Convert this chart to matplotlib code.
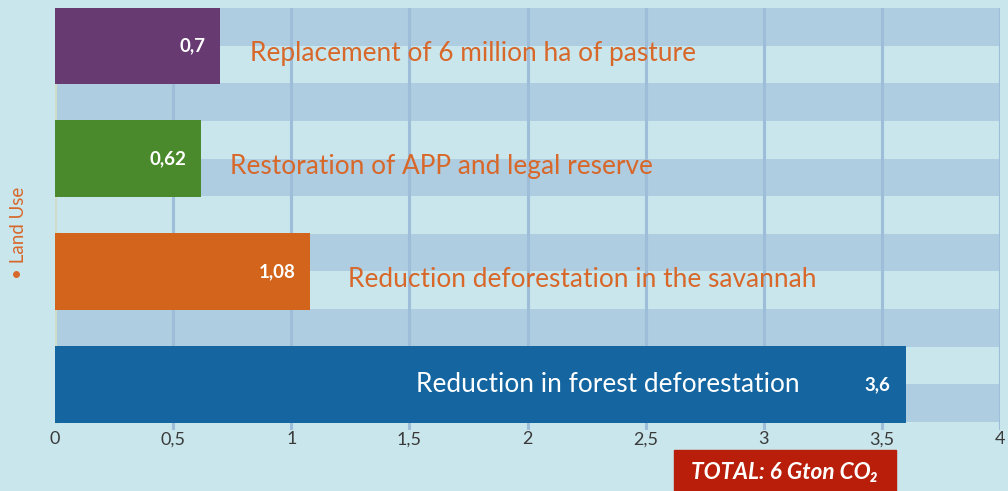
import matplotlib
matplotlib.use("Agg")
import matplotlib.pyplot as plt
from matplotlib.patches import Rectangle

# Datos (Gton CO2)
categorias = ["Replacement of 6 million ha of pasture",
              "Restoration of APP and legal reserve",
              "Reduction deforestation in the savannah",
              "Reduction in forest deforestation"]
valores = [0.7, 0.62, 1.08, 3.6]
etiquetas_valor = ["0,7", "0,62", "1,08", "3,6"]
ticks_x = [0, 0.5, 1, 1.5, 2, 2.5, 3, 3.5, 4]
ticks_txt = ["0", "0,5", "1", "1,5", "2", "2,5", "3", "3,5", "4"]

colores = ["#673a72", "#4b8a2c", "#d2651b", "#1465a0"]
color_txt = ["#d8672a", "#d8672a", "#d8672a", "white"]
# posicion x de inicio del texto de cada categoria
x_txt = [0.825, 0.74, 1.24, 1.53]

fondo = "#c8e6ec"
banda = "#aecde0"
fuente = ["Lato", "DejaVu Sans"]
plt.rcParams["font.family"] = fuente

fig = plt.figure(figsize=(10.08, 4.91), dpi=100, facecolor=fondo)
ax = fig.add_axes([55 / 1008, (491 - 430) / 491, 945 / 1008, 422 / 491])
ax.set_facecolor(fondo)

n_bandas = 11
ax.set_xlim(0, 4)
ax.set_ylim(n_bandas + 8 / 37.64, 0)

# bandas horizontales del fondo
for i in range(0, n_bandas, 2):
    ax.add_patch(Rectangle((0, i), 4, 1, color=banda, lw=0, zorder=0))

# lineas verticales
for t in ticks_x[1:]:
    ax.axvline(t, color="#9dbdd9", lw=2.2, zorder=1)
ax.axvline(0, ymin=0.02, color="#cfdcc8", lw=2.2, zorder=1)

pos = [1 + 3 * i for i in range(len(valores))]
ax.barh(pos, valores, height=2.05, color=colores, zorder=2)

for p, v, lab, cat, xt, ct in zip(pos, valores, etiquetas_valor, categorias, x_txt, color_txt):
    ax.annotate(lab, (v, p), xytext=(-15, 0), textcoords="offset pixels",
                ha="right", va="center", color="white", fontsize=13.5,
                fontweight="bold", zorder=3)
    dy = 0.0 if ct == "white" else 0.22
    ax.text(xt, p + dy, cat, ha="left", va="center", color=ct,
            fontsize=18.9, zorder=3)

ax.set_xticks(ticks_x)
ax.set_xticklabels(ticks_txt, fontsize=13, color="#3a3a3a")
ax.tick_params(axis="x", length=0, pad=1)
ax.set_yticks([])
for s in ax.spines.values():
    s.set_visible(False)

fig.text(19 / 1008, 1 - 233 / 491, "\u2022 Land Use", rotation=90, ha="center",
         va="center", color="#d8672a", fontsize=13.5)

# caja del total
fig.patches.append(Rectangle((674 / 1008, 0), 222 / 1008, 41 / 491,
                             transform=fig.transFigure, color="#b81e0a", zorder=5))
fig.text(785 / 1008, 1 - 473 / 491, "TOTAL: 6 Gton CO\u2082", ha="center", va="center",
         color="white", fontsize=16.3, fontweight="bold", style="italic", zorder=6)

fig.savefig("out.png", dpi=100, facecolor=fondo)
